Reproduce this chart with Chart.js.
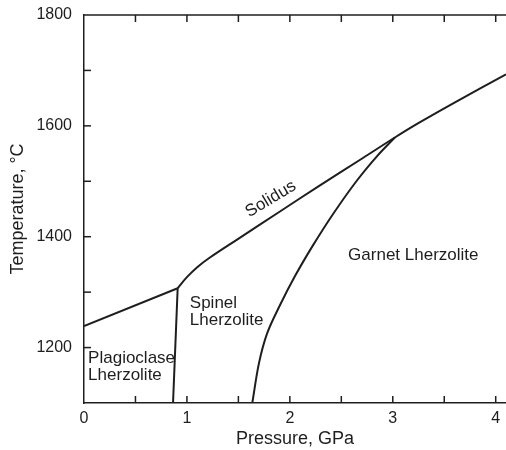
<!DOCTYPE html>
<html><head><meta charset="utf-8">
<script src="https://cdn.jsdelivr.net/npm/chart.js@4.4.0/dist/chart.umd.min.js"></script>
<style>html,body{margin:0;padding:0;background:#fff}#wrap{width:506px;height:450px;position:relative}</style>
</head><body><div id="wrap"><canvas id="c"></canvas></div>
<script>
// ---- data (pressure in GPa, temperature in °C) ----
const solidusLowP = [0, 0.91];
const solidusLowT = [1239, 1307];
const solidusP = [0.91, 1.0, 1.1, 1.22, 1.48, 1.9, 2.27, 2.71, 3.02, 3.24, 3.6, 4.1];
const solidusT = [1307, 1327, 1345, 1362, 1394, 1445, 1490, 1542, 1579, 1604, 1642, 1693];
const plagSpinelP = [0.865, 0.91];
const plagSpinelT = [1100, 1307];
const garnetP = [1.635, 1.70, 1.78, 1.90, 2.05, 2.22, 2.42, 2.65, 2.85, 3.02];
const garnetT = [1100, 1172, 1226, 1275, 1329, 1383, 1441, 1501, 1546, 1579];
const xTickLabels = ['0', '1', '2', '3', '4'];
const yTickLabels = ['1200', '1400', '1600', '1800'];
const regionNames = [['Plagioclase', 'Lherzolite'], ['Spinel', 'Lherzolite'], ['Garnet Lherzolite'], ['Solidus']];

// ---- placement of the region texts (data coordinates) ----
const textPlacement = [
  {p: 0.04, t: 1180, align: 'left', rot: 0},
  {p: 1.028, t: 1279, align: 'left', rot: 0},
  {p: 2.566, t: 1366, align: 'left', rot: 0},
  {p: 1.814, t: 1468, align: 'center', rot: -31}
];

const FONT = '"Liberation Sans", Arial, Helvetica, sans-serif';
const INK = '#1e1e1e';
const pts = (P, T) => P.map((p, i) => ({x: p, y: T[i]}));
const lineDs = (P, T, tension) => ({
  data: pts(P, T), showLine: true, pointRadius: 0, borderColor: INK, borderWidth: 2,
  tension: tension, fill: false
});

const decor = {
  id: 'decor',
  afterDatasetsDraw(chart) {
    const {ctx, chartArea: a, scales: {x, y}} = chart;
    ctx.save();
    ctx.strokeStyle = INK; ctx.lineWidth = 1.5;
    ctx.beginPath(); ctx.moveTo(a.left, a.top); ctx.lineTo(a.right, a.top); ctx.stroke();
    const L = 7;
    x.ticks.forEach(tk => {
      const px = x.getPixelForValue(tk.value);
      if (px <= a.left + 1) return;
      ctx.beginPath();
      ctx.moveTo(px, a.bottom); ctx.lineTo(px, a.bottom - L);
      ctx.moveTo(px, a.top); ctx.lineTo(px, a.top + L);
      ctx.stroke();
    });
    y.ticks.forEach(tk => {
      const py = y.getPixelForValue(tk.value);
      if (py >= a.bottom - 1 || py <= a.top + 1) return;
      ctx.beginPath(); ctx.moveTo(a.left, py); ctx.lineTo(a.left + L, py); ctx.stroke();
    });
    ctx.fillStyle = INK;
    ctx.font = '17px ' + FONT;
    ctx.textBaseline = 'middle';
    regionNames.forEach((lines, i) => {
      const pl = textPlacement[i];
      const px = x.getPixelForValue(pl.p), py = y.getPixelForValue(pl.t);
      ctx.save();
      ctx.translate(px, py);
      ctx.rotate(pl.rot * Math.PI / 180);
      ctx.textAlign = pl.align;
      lines.forEach((s, j) => ctx.fillText(s, 0, j * 17));
      ctx.restore();
    });
    ctx.restore();
  }
};

new Chart(document.getElementById('c'), {
  type: 'scatter',
  data: {
    datasets: [
      lineDs(solidusLowP, solidusLowT, 0),
      lineDs(solidusP, solidusT, 0.35),
      lineDs(plagSpinelP, plagSpinelT, 0),
      lineDs(garnetP, garnetT, 0.35)
    ]
  },
  options: {
    responsive: true, maintainAspectRatio: false, animation: false,
    layout: {padding: {top: 15, right: 0, left: 0, bottom: 0}},
    plugins: {legend: {display: false}, tooltip: {enabled: false}},
    scales: {
      x: {
        type: 'linear', min: 0, max: 4.1,
        afterFit: s => { s.height = 47; s.paddingLeft = 0; s.paddingRight = 0; },
        grid: {display: true, drawOnChartArea: false, drawTicks: false},
        border: {display: true, color: INK, width: 1.5},
        ticks: {
          stepSize: 0.5, includeBounds: false, autoSkip: false, maxRotation: 0, padding: 6,
          color: INK, font: {family: FONT, size: 16},
          callback: v => Number.isInteger(v) ? (xTickLabels[v] ?? '') : ''
        },
        title: {display: true, text: 'Pressure, GPa', color: INK, font: {family: FONT, size: 18}, padding: {top: 0, bottom: 0}}
      },
      y: {
        type: 'linear', min: 1100, max: 1800,
        afterFit: s => { s.width = 84; s.paddingTop = 0; s.paddingBottom = 0; },
        grid: {display: true, drawOnChartArea: false, drawTicks: false},
        border: {display: true, color: INK, width: 1.5},
        ticks: {
          stepSize: 100, includeBounds: false, autoSkip: false, padding: 12,
          color: INK, font: {family: FONT, size: 16},
          callback: v => yTickLabels.includes(String(v)) ? String(v) : ''
        },
        title: {display: true, text: 'Temperature, °C', color: INK, font: {family: FONT, size: 18}, padding: {top: 7, bottom: 0}}
      }
    }
  },
  plugins: [decor]
});
</script></body></html>
